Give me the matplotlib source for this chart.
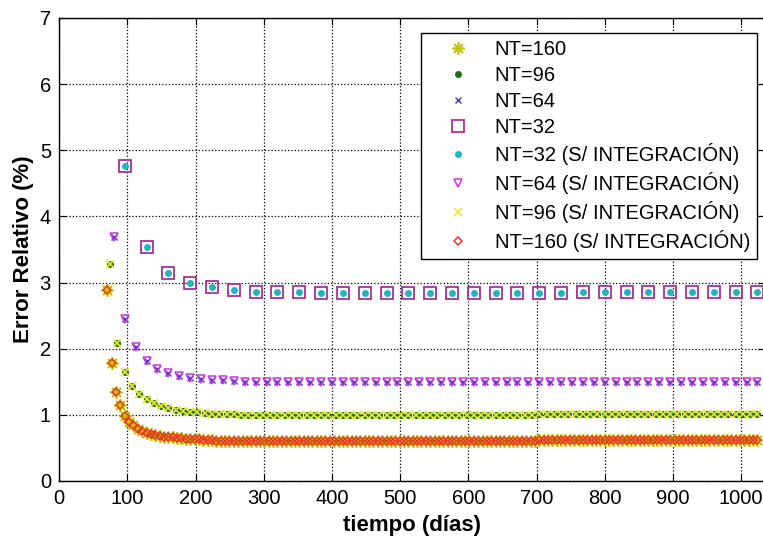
import matplotlib
matplotlib.use("Agg")
import matplotlib.pyplot as plt
import numpy as np

plt.rcParams['font.family'] = ['Liberation Sans', 'DejaVu Sans']

# time grids: dt = 1024/NT days
t32 = np.arange(3, 33) * 32.0
t64 = np.arange(5, 65) * 16.0
t96 = np.arange(7, 97) * (1024.0 / 96)
t160 = np.arange(11, 161) * 6.4

err32 = [4.76, 3.53, 3.15, 2.99, 2.93, 2.88, 2.86, 2.85, 2.85, 2.84,
         2.84, 2.84, 2.84, 2.84, 2.84, 2.84, 2.84, 2.84, 2.84, 2.84,
         2.84, 2.85, 2.85, 2.85, 2.85, 2.85, 2.85, 2.85, 2.85, 2.85]

err64 = [3.69, 2.45, 2.02, 1.82, 1.70, 1.63, 1.58, 1.56, 1.54, 1.53,
         1.52, 1.51, 1.50, 1.50, 1.49, 1.49, 1.49, 1.49, 1.49, 1.49,
         1.49, 1.49, 1.49, 1.49, 1.49, 1.49, 1.49, 1.49, 1.49, 1.49,
         1.49, 1.49, 1.49, 1.49, 1.49, 1.49, 1.49, 1.49, 1.49, 1.50,
         1.50, 1.50, 1.50, 1.50, 1.50, 1.50, 1.50, 1.50, 1.50, 1.50,
         1.50, 1.50, 1.50, 1.50, 1.50, 1.50, 1.50, 1.50, 1.50, 1.50]

err96 = [3.28, 2.08, 1.65, 1.43, 1.31, 1.24, 1.18, 1.13, 1.10, 1.08,
         1.06, 1.05, 1.04, 1.03, 1.02, 1.02, 1.01, 1.01, 1.00, 1.00,
         1.00, 1.00, 1.00, 1.00, 1.00, 1.00, 1.00, 1.00, 1.00, 1.00,
         1.00, 1.00, 1.00, 1.00, 1.00, 1.00, 1.00, 1.00, 1.00, 1.00,
         1.00, 1.00, 1.00, 1.00, 1.00, 1.00, 1.00, 1.00, 1.00, 1.00,
         1.00, 1.00, 1.00, 1.00, 1.00, 1.00, 1.00, 1.00, 1.00, 1.02,
         1.02, 1.02, 1.02, 1.02, 1.02, 1.02, 1.02, 1.02, 1.02, 1.02,
         1.02, 1.02, 1.02, 1.02, 1.02, 1.02, 1.02, 1.02, 1.02, 1.02,
         1.02, 1.02, 1.02, 1.02, 1.02, 1.02, 1.02, 1.02, 1.02, 1.02]

err160 = [2.88, 1.78, 1.35, 1.15, 0.98, 0.89, 0.84, 0.79, 0.76, 0.73,
          0.71, 0.70, 0.68, 0.67, 0.66, 0.66, 0.65, 0.65, 0.64, 0.64,
          0.63, 0.63, 0.62, 0.62, 0.62, 0.61, 0.61, 0.61, 0.61, 0.61,
          0.60, 0.60, 0.60, 0.60, 0.60, 0.60, 0.60, 0.60, 0.60, 0.60,
          0.60, 0.60, 0.60, 0.60, 0.60, 0.60, 0.60, 0.60, 0.60, 0.60,
          0.60, 0.60, 0.60, 0.60, 0.60, 0.60, 0.60, 0.60, 0.60, 0.60,
          0.60, 0.60, 0.60, 0.60, 0.60, 0.60, 0.60, 0.60, 0.60, 0.60,
          0.60, 0.60, 0.60, 0.60, 0.60, 0.60, 0.60, 0.60, 0.60, 0.60,
          0.60, 0.60, 0.60, 0.60, 0.60, 0.60, 0.60, 0.60, 0.60, 0.60,
          0.60, 0.60, 0.60, 0.60, 0.60, 0.60, 0.60, 0.60, 0.60, 0.62,
          0.62, 0.62, 0.62, 0.62, 0.62, 0.62, 0.62, 0.62, 0.62, 0.62,
          0.62, 0.62, 0.62, 0.62, 0.62, 0.62, 0.62, 0.62, 0.62, 0.62,
          0.62, 0.62, 0.62, 0.62, 0.62, 0.62, 0.62, 0.62, 0.62, 0.62,
          0.62, 0.62, 0.62, 0.62, 0.62, 0.62, 0.62, 0.62, 0.62, 0.62,
          0.62, 0.62, 0.62, 0.62, 0.62, 0.62, 0.62, 0.62, 0.62, 0.62]

# the runs without integration lie on top of the integrated ones
err32_si = err32
err64_si = err64
err96_si = err96
err160_si = err160

fig = plt.figure(figsize=(7.63, 5.4), dpi=100)
ax = fig.add_axes([0.0777, 0.1093, 0.9249, 0.8574])

ax.plot(t160, err160, ls='none', marker=(8, 2, 0), ms=9, mew=1.2, color='#c8c400', label='NT=160')
ax.plot(t96, err96, ls='none', marker='o', ms=4, color='#1c6e1c', label='NT=96')
ax.plot(t64, err64, ls='none', marker='x', ms=5, mew=1.0, color='#3c3cc0', label='NT=64')
ax.plot(t32, err32, ls='none', marker='s', ms=8, mew=1.3, mfc='none', color='#a8309c', label='NT=32')
ax.plot(t32, err32_si, ls='none', marker='o', ms=4, color='#22b4c4', label='NT=32 (S/ INTEGRACIÓN)')
ax.plot(t64, err64_si, ls='none', marker='v', ms=6, mew=1.1, mfc='none', color='#cc33dd', label='NT=64 (S/ INTEGRACIÓN)')
ax.plot(t96, err96_si, ls='none', marker='x', ms=6, mew=1.2, color='#ecea30', label='NT=96 (S/ INTEGRACIÓN)')
ax.plot(t160, err160_si, ls='none', marker='D', ms=4, mew=1.1, mfc='none', color='#e8362a', label='NT=160 (S/ INTEGRACIÓN)')

ax.set_xlim(0, 1035)
ax.set_ylim(0, 7)
ax.set_xticks(np.arange(0, 1001, 100))
ax.set_yticks(np.arange(0, 8, 1))
ax.grid(True, ls=':', color='k', lw=0.9)
ax.tick_params(direction='in', length=5, top=True, right=True, labelsize=14.5, pad=6)
for s in ax.spines.values():
    s.set_linewidth(1.0)

ax.set_xlabel('tiempo (días)', fontsize=16, fontweight='bold', labelpad=5)
ax.set_ylabel('Error Relativo (%)', fontsize=16, fontweight='bold', labelpad=4)

leg = ax.legend(loc='upper right', bbox_to_anchor=(757 / 763, 1 - 33 / 540),
                bbox_transform=fig.transFigure, borderaxespad=0,
                fontsize=14.5, fancybox=False, framealpha=1, edgecolor='k',
                handlelength=3.0, handletextpad=0.3, labelspacing=0.34,
                borderpad=0.35, numpoints=1)
leg.get_frame().set_linewidth(1.0)

fig.savefig('out.png', dpi=100)
